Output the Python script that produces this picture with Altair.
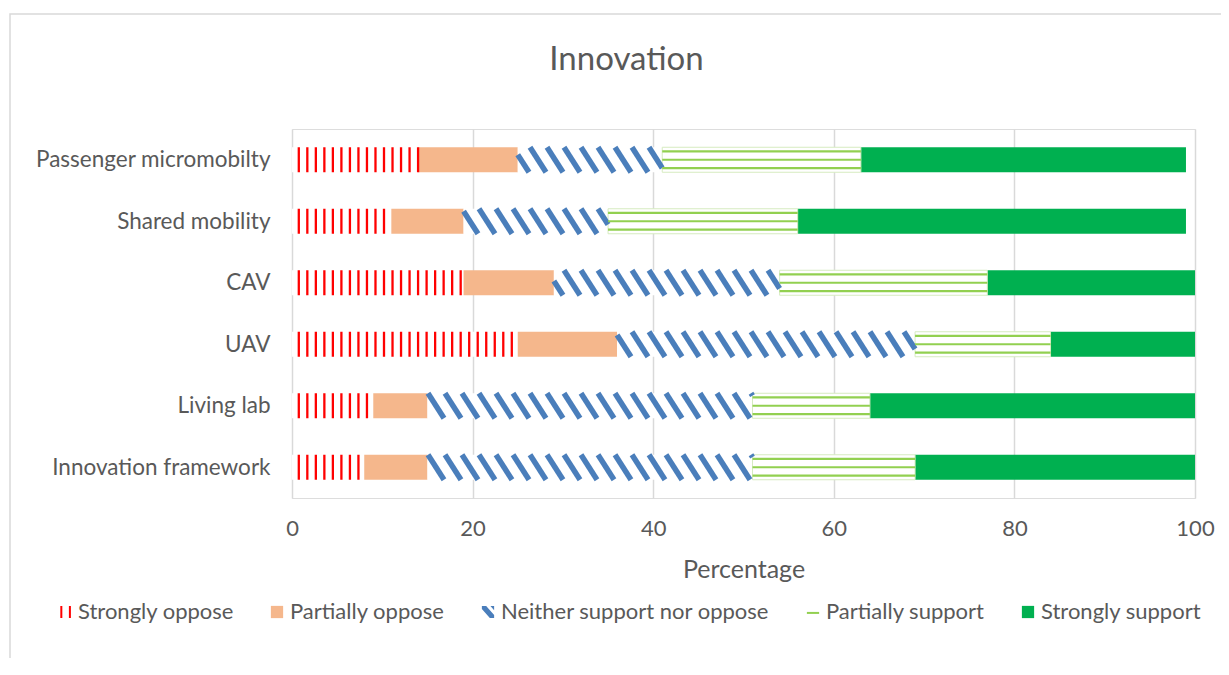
import altair as alt
import pandas as pd
import numpy as np

# ---------------- data ----------------
categories = ["Passenger micromobilty", "Shared mobility", "CAV", "UAV",
              "Living lab", "Innovation framework"]
levels = ["Strongly oppose", "Partially oppose", "Neither support nor oppose",
          "Partially support", "Strongly support"]
strongly_oppose = [14, 11, 19, 25, 9, 8]
partially_oppose = [11, 8, 10, 11, 6, 7]
neither = [16, 16, 25, 33, 36, 36]
partially_support = [22, 21, 23, 15, 13, 18]
strongly_support = [36, 43, 23, 16, 36, 31]
series = [strongly_oppose, partially_oppose, neither, partially_support, strongly_support]
x_ticks = [0, 20, 40, 60, 80, 100]

# ---------------- layout constants ----------------
W, H = 903, 369
PX = W / 100.0          # pixels per x unit
PY = H / 6.0            # pixels per category
HALF = 12.5 / PY        # half bar height (y units)
TEXT = "#595959"
FONT = "Lato"

rows = []
for i, cat in enumerate(categories):
    s = 0
    for lvl, vals in zip(levels, series):
        v = vals[i]
        rows.append(dict(cat=cat, idx=i, level=lvl, start=s, end=s + v,
                         y0=i - HALF, y1=i + HALF))
        s += v
seg = pd.DataFrame(rows)

# red vertical stripes (pattern for "Strongly oppose")
red_rows = []
step = 8.52 / PX
first = 6.8 / PX
for r in seg[seg.level == levels[0]].itertuples():
    xk = first
    while xk < r.end - 0.02:
        red_rows.append(dict(x=xk, y0=r.y0, y1=r.y1))
        xk += step
red_df = pd.DataFrame(red_rows)

# blue diagonal stripes (pattern for "Neither support nor oppose")
blue_rows = []
period = 17.0 / PX
slant = 16.0 / PX
for r in seg[seg.level == levels[2]].itertuples():
    k0 = int(np.floor((r.start - slant) / period)) - 1
    k1 = int(np.ceil(r.end / period)) + 1
    for k in range(k0, k1 + 1):
        a = k * period
        t0 = max(0.0, (r.start - a) / slant)
        t1 = min(1.0, (r.end - a) / slant)
        if t1 - t0 <= 0.02:
            continue
        blue_rows.append(dict(x=a + slant * t0, x2=a + slant * t1,
                              y=r.y0 + (r.y1 - r.y0) * t0,
                              y2=r.y0 + (r.y1 - r.y0) * t1))
blue_df = pd.DataFrame(blue_rows)

# green horizontal lines (pattern for "Partially support")
green_rows = []
for r in seg[seg.level == levels[3]].itertuples():
    for off in (-8.3, 0.0, 8.3):
        green_rows.append(dict(x=r.start, x2=r.end, y=r.idx + off / PY))
green_df = pd.DataFrame(green_rows)

legend_df = pd.DataFrame(dict(level=levels, x=[95] * 5, y=[0] * 5))

# ---------------- scales ----------------
xs = alt.Scale(domain=[0, 100], nice=False, zero=False)
ys = alt.Scale(domain=[-0.5, 5.5], reverse=True, nice=False, zero=False)

label_expr = "[" + ",".join("'%s'" % c for c in categories) + "][datum.value]"

x_axis = alt.Axis(values=x_ticks, grid=True, gridColor="#D9D9D9", gridWidth=1.5,
                  domain=False, ticks=False, labelPadding=20, labelFontSize=22,
                  labelColor=TEXT, labelFont=FONT, labelFlush=False,
                  labelOverlap=False, title="Percentage",
                  titleFontSize=25, titleFont=FONT, titleColor=TEXT,
                  titleFontWeight="normal", titlePadding=18)
y_axis = alt.Axis(values=list(range(len(categories))), labelExpr=label_expr,
                  grid=False, domain=False, ticks=False, labelPadding=22,
                  labelFontSize=22.5, labelColor=TEXT, labelFont=FONT, title=None,
                  labelLimit=400)


def make_legend():
    return alt.Legend(orient="none", legendX=-238, legendY=472,
                      direction="horizontal", columns=5, columnPadding=32,
                      labelFontSize=22, labelFont=FONT, labelColor=TEXT,
                      labelOffset=2, symbolSize=150, symbolStrokeWidth=2.0,
                      padding=0, labelLimit=400, title=None)


# ---------------- layers ----------------
border = alt.Chart(pd.DataFrame({"a": [0]})).mark_rect(
    fill="transparent", stroke="#D9D9D9", strokeWidth=1.5, clip=False
).encode(x=alt.value(-282), x2=alt.value(W + 200),
         y=alt.value(-115), y2=alt.value(H + 400))

legend_layer = alt.Chart(legend_df).mark_point(size=0, opacity=1).encode(
    x=alt.X("x:Q", scale=xs, axis=x_axis),
    y=alt.Y("y:Q", scale=ys, axis=y_axis),
    fill=alt.Fill("level:N", sort=levels, legend=make_legend(),
                  scale=alt.Scale(domain=levels,
                                  range=["transparent", "#F5B78C", "#4A7EBB",
                                         "transparent", "#00B050"])),
    stroke=alt.Stroke("level:N", sort=levels, legend=make_legend(),
                      scale=alt.Scale(domain=levels,
                                      range=["#FF0000", "transparent", "transparent",
                                             "#92D050", "transparent"])),
    shape=alt.Shape("level:N", sort=levels, legend=make_legend(),
                    scale=alt.Scale(domain=levels,
                                    range=["M-0.6,-1V1M0.8,-1V1",
                                           "square",
                                           "M-1,-1H-0.3L1,0.5V1H0.3L-1,-0.5Z M0.4,-1H1V-0.3Z",
                                           "M-1,0.15H1",
                                           "square"])),
)

bars = alt.Chart(seg).mark_bar().encode(
    x=alt.X("start:Q", scale=xs),
    x2="end:Q",
    y=alt.Y("y0:Q", scale=ys),
    y2="y1:Q",
    color=alt.Color("level:N", legend=None,
                    scale=alt.Scale(domain=levels,
                                    range=["#FFFFFF", "#F5B78C", "#FFFFFF",
                                           "#FFFFFF", "#00B050"])),
)

outline = alt.Chart(seg).transform_filter(
    alt.datum.level == levels[3]
).mark_bar(fill="transparent", stroke="#D6EBC0", strokeWidth=1).encode(
    x=alt.X("start:Q", scale=xs), x2="end:Q",
    y=alt.Y("y0:Q", scale=ys), y2="y1:Q",
)

red = alt.Chart(red_df).mark_rule(color="#FF0000", strokeWidth=2.3).encode(
    x=alt.X("x:Q", scale=xs),
    y=alt.Y("y0:Q", scale=ys), y2="y1:Q",
)

blue = alt.Chart(blue_df).mark_rule(color="#4A7EBB", strokeWidth=5.5,
                                    strokeCap="butt").encode(
    x=alt.X("x:Q", scale=xs), x2="x2:Q",
    y=alt.Y("y:Q", scale=ys), y2="y2:Q",
)

green = alt.Chart(green_df).mark_rule(color="#92D050", strokeWidth=2.2).encode(
    x=alt.X("x:Q", scale=xs), x2="x2:Q",
    y=alt.Y("y:Q", scale=ys),
)

chart = alt.layer(border, legend_layer, bars, outline, red, blue, green).resolve_scale(
    color="independent"
).properties(
    width=W, height=H,
    autosize=alt.AutoSizeParams(type="none"),
    padding={"left": 284, "top": 121, "right": 26, "bottom": 160},
    title=alt.TitleParams("Innovation", fontSize=33, font=FONT, color=TEXT,
                          fontWeight="normal", anchor="middle",
                          dx=-117, offset=0, dy=64),
).configure_view(stroke="transparent", strokeWidth=0
).configure(background="white")

chart.save("out.html", embed_options={"renderer": "svg", "actions": False})
